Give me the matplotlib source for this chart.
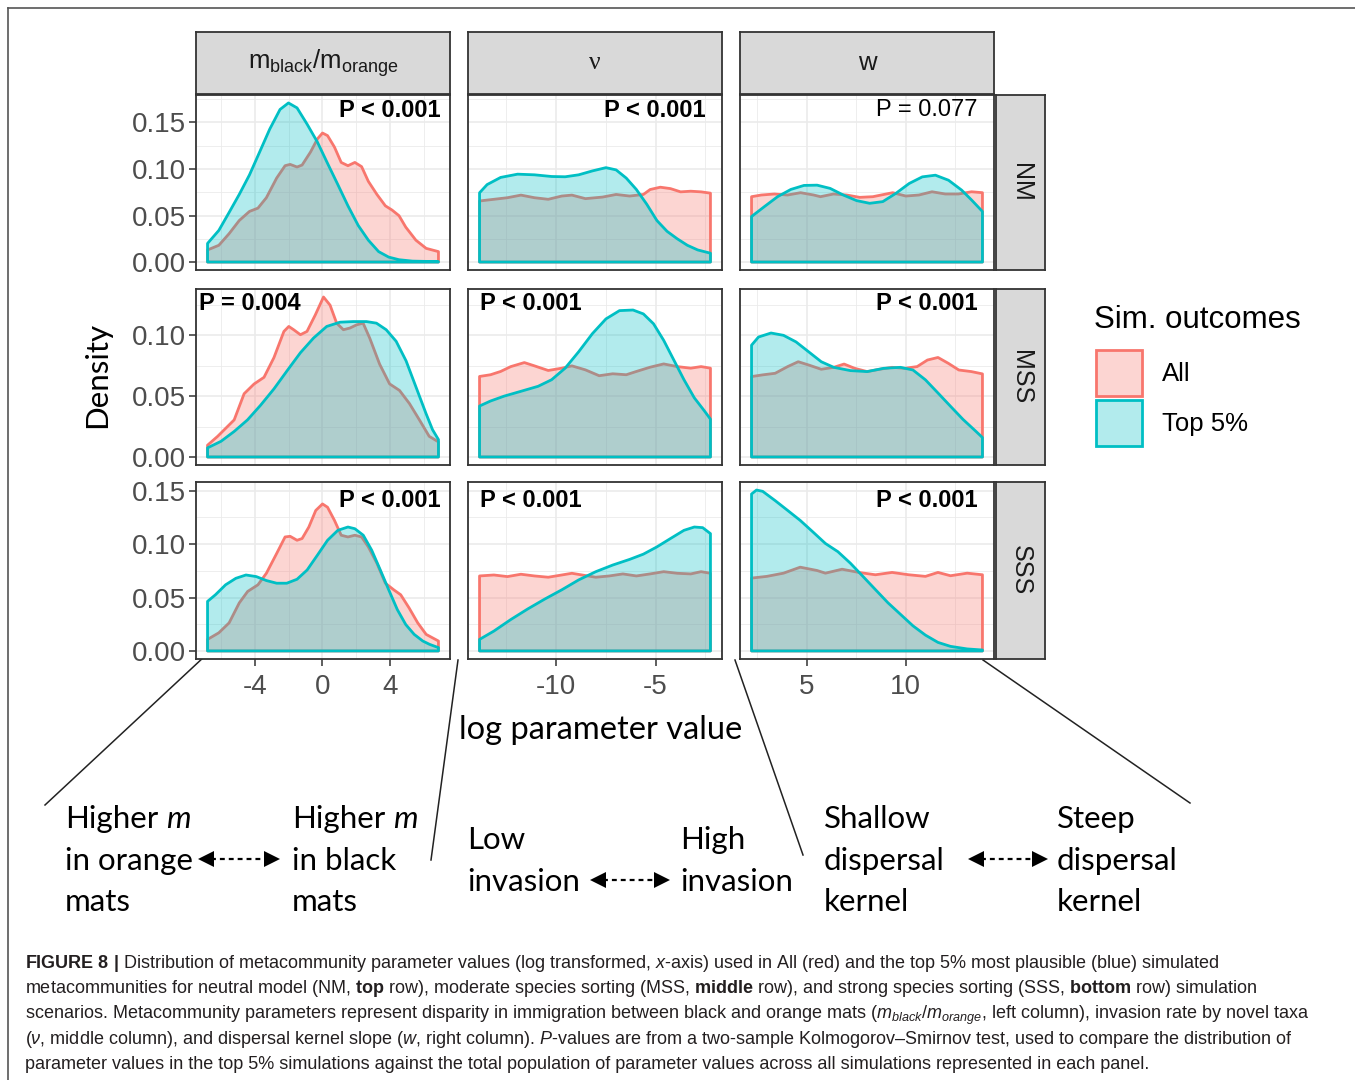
import numpy as np
import matplotlib
matplotlib.use("Agg")
import matplotlib.pyplot as plt
from matplotlib.patches import Patch
from matplotlib import font_manager

# ---- density curves (x = log parameter value, y = density) ----
# column 1: m_black / m_orange
nm_m_all_x = [-6.82, -6.15, -5.54, -4.94, -4.33, -3.83, -3.33, -2.72, -2.22, -1.92, -1.51, -1.21, -0.71, -0.30, 0.0,
              0.30, 0.71, 1.11, 1.51, 1.92, 2.32, 2.72, 3.23, 3.73, 4.13, 4.54, 4.94, 5.54, 6.15, 6.88]
nm_m_all_y = [0.013, 0.018, 0.0305, 0.0446, 0.0544, 0.0579, 0.0691, 0.0902, 0.1035, 0.1049, 0.1021, 0.1042, 0.1182,
              0.1323, 0.1386, 0.1358, 0.1235, 0.107, 0.1035, 0.107, 0.1025, 0.0867, 0.0726, 0.0604, 0.0558, 0.0498,
              0.0375, 0.0235, 0.0147, 0.0112]
nm_m_top_x = [-6.82, -6.15, -5.54, -4.94, -4.33, -3.73, -3.13, -2.52, -2.02, -1.51, -0.91, -0.30, 0.30, 0.91, 1.51,
              2.12, 2.72, 3.33, 3.93, 4.54, 5.34, 6.88]
nm_m_top_y = [0.020, 0.034, 0.0533, 0.0726, 0.0937, 0.1182, 0.1428, 0.1639, 0.1709, 0.1656, 0.148, 0.1288, 0.106,
              0.0832, 0.0604, 0.0393, 0.0235, 0.0112, 0.0053, 0.0025, 0.001, 0.0004]

mss_m_all_x = [-6.82, -6.22, -5.24, -4.65, -4.06, -3.47, -2.88, -2.29, -2.0, -1.71, -1.31, -0.92, -0.43, 0.06, 0.45,
               0.84, 1.24, 1.63, 2.02, 2.41, 2.80, 3.39, 3.98, 4.57, 5.16, 5.75, 6.33, 6.88]
mss_m_all_y = [0.0097, 0.017, 0.0305, 0.052, 0.060, 0.0655, 0.0817, 0.1032, 0.1073, 0.1046, 0.1005, 0.1032, 0.1167,
               0.1315, 0.1248, 0.110, 0.1046, 0.106, 0.1086, 0.110, 0.0978, 0.0763, 0.0601, 0.0547, 0.0439, 0.0305,
               0.017, 0.0124]
mss_m_top_x = [-6.82, -6.02, -5.24, -4.45, -3.67, -2.88, -2.10, -1.31, -0.53, 0.25, 1.04, 1.82, 2.61, 3.20, 3.78,
               4.37, 4.96, 5.55, 6.14, 6.53, 6.88]
mss_m_top_y = [0.0075, 0.0129, 0.021, 0.0305, 0.0426, 0.056, 0.0709, 0.0857, 0.0978, 0.1073, 0.1108, 0.1113, 0.1113,
               0.110, 0.1046, 0.0951, 0.079, 0.0574, 0.0358, 0.0224, 0.0143]

sss_m_all_x = [-6.82, -6.15, -5.54, -4.94, -4.44, -3.83, -3.33, -2.72, -2.22, -1.92, -1.51, -1.21, -0.81, -0.40, 0.0,
               0.30, 0.71, 1.11, 1.51, 1.92, 2.32, 2.72, 3.23, 3.73, 4.23, 4.64, 5.14, 5.65, 6.15, 6.88]
sss_m_all_y = [0.0108, 0.017, 0.0263, 0.0449, 0.0557, 0.0619, 0.0727, 0.0912, 0.1067, 0.1073, 0.1036, 0.1052, 0.116,
               0.1315, 0.1376, 0.1345, 0.1222, 0.1083, 0.1067, 0.1083, 0.1067, 0.0974, 0.082, 0.0634, 0.0572, 0.0526,
               0.0402, 0.0263, 0.0155, 0.0093]
sss_m_top_x = [-6.82, -6.35, -5.75, -5.14, -4.54, -3.93, -3.33, -2.72, -2.12, -1.51, -0.91, -0.30, 0.30, 0.91, 1.51,
               1.92, 2.42, 2.92, 3.43, 3.93, 4.44, 4.94, 5.44, 5.95, 6.35, 6.88]
sss_m_top_y = [0.0464, 0.0526, 0.0619, 0.068, 0.0711, 0.0696, 0.0659, 0.0634, 0.0634, 0.0671, 0.0758, 0.0897, 0.1036,
               0.1129, 0.116, 0.1144, 0.1083, 0.0943, 0.0758, 0.0572, 0.0387, 0.0247, 0.0155, 0.0093, 0.0062, 0.0031]

# column 2: nu (invasion rate)
nm_nu_all_x = [-13.84, -13.12, -12.44, -11.76, -11.08, -10.39, -9.71, -9.20, -8.52, -7.66, -6.98, -6.30, -5.61,
               -5.27, -4.76, -4.25, -3.74, -3.23, -2.71, -2.24]
nm_nu_all_y = [0.0656, 0.0674, 0.0691, 0.0719, 0.0691, 0.0674, 0.0709, 0.0719, 0.0681, 0.0698, 0.0726, 0.0709, 0.0726,
               0.0779, 0.0804, 0.0789, 0.0754, 0.0761, 0.0754, 0.074]
nm_nu_top_x = [-13.84, -13.46, -12.78, -11.93, -11.08, -10.22, -9.54, -8.86, -8.17, -7.49, -6.98, -6.47, -5.96,
               -5.44, -4.93, -4.42, -3.91, -3.40, -2.88, -2.24]
nm_nu_top_y = [0.0744, 0.0832, 0.0909, 0.0944, 0.0937, 0.0919, 0.0916, 0.0937, 0.0979, 0.1014, 0.099, 0.0902, 0.0779,
               0.0621, 0.0446, 0.033, 0.025, 0.018, 0.013, 0.0095]

mss_nu_all_x = [-13.84, -13.29, -12.78, -12.27, -11.59, -11.08, -10.39, -9.71, -9.20, -8.52, -7.83, -7.15, -6.47,
                -5.96, -5.27, -4.59, -3.91, -3.23, -2.71, -2.24]
mss_nu_all_y = [0.0662, 0.0676, 0.0703, 0.0743, 0.0776, 0.0749, 0.0711, 0.073, 0.0749, 0.0716, 0.0668, 0.0684, 0.0676,
                0.0703, 0.0738, 0.0765, 0.0743, 0.073, 0.0743, 0.073]
mss_nu_top_x = [-13.84, -13.29, -12.61, -11.76, -10.90, -10.22, -9.54, -8.86, -8.17, -7.49, -6.81, -6.13, -5.61,
                -5.10, -4.59, -4.08, -3.57, -3.05, -2.54, -2.24]
mss_nu_top_y = [0.0419, 0.046, 0.05, 0.054, 0.0581, 0.0635, 0.073, 0.0865, 0.1014, 0.1135, 0.1203, 0.1208, 0.1176,
                0.1095, 0.0959, 0.0797, 0.0635, 0.0486, 0.0378, 0.0311]

sss_nu_all_x = [-13.84, -13.12, -12.44, -11.76, -11.08, -10.39, -9.71, -9.20, -8.69, -8.0, -7.32, -6.64, -5.96,
                -5.27, -4.59, -3.91, -3.23, -2.71, -2.24]
sss_nu_all_y = [0.0702, 0.0711, 0.0696, 0.0718, 0.0702, 0.069, 0.0711, 0.0727, 0.0711, 0.069, 0.0702, 0.0721, 0.0702,
                0.0721, 0.0742, 0.0727, 0.0721, 0.0742, 0.0727]
sss_nu_top_x = [-13.84, -13.12, -12.27, -11.42, -10.56, -9.71, -8.86, -8.0, -7.15, -6.30, -5.61, -4.93, -4.25,
                -3.57, -3.05, -2.63, -2.24]
sss_nu_top_y = [0.0108, 0.0186, 0.0294, 0.0393, 0.0486, 0.0572, 0.0665, 0.0742, 0.0804, 0.0857, 0.0906, 0.0974,
                0.1052, 0.1129, 0.116, 0.1154, 0.1098]

# column 3: w (dispersal kernel slope)
nm_w_all_x = [2.23, 2.72, 3.38, 4.04, 4.70, 5.36, 5.70, 6.36, 7.02, 7.68, 8.34, 9.01, 9.34, 10.0, 10.66, 11.32,
              11.99, 12.65, 13.31, 13.86]
nm_w_all_y = [0.0702, 0.072, 0.0731, 0.072, 0.0745, 0.072, 0.0702, 0.0731, 0.072, 0.0695, 0.0702, 0.0731, 0.0745,
              0.0709, 0.072, 0.0755, 0.0731, 0.0731, 0.0755, 0.0745]
nm_w_top_x = [2.23, 2.88, 3.54, 4.21, 4.87, 5.53, 6.19, 6.85, 7.52, 8.18, 8.84, 9.50, 10.17, 10.83, 11.49, 12.15,
              12.81, 13.31, 13.86]
nm_w_top_y = [0.0489, 0.0596, 0.0702, 0.078, 0.0823, 0.0826, 0.0791, 0.072, 0.066, 0.0631, 0.0649, 0.0738, 0.0844,
              0.0915, 0.0933, 0.0879, 0.0773, 0.0667, 0.0543]

mss_w_all_x = [2.23, 2.79, 3.42, 4.05, 4.58, 5.11, 5.74, 6.37, 6.89, 7.42, 8.05, 8.68, 9.31, 9.94, 10.57, 11.09,
               11.62, 12.14, 12.67, 13.30, 13.86]
mss_w_all_y = [0.0661, 0.0675, 0.0688, 0.0743, 0.0783, 0.0756, 0.0721, 0.0737, 0.0764, 0.0729, 0.0702, 0.0721, 0.0737,
               0.0729, 0.0743, 0.0797, 0.0818, 0.077, 0.0715, 0.0702, 0.0683]
mss_w_top_x = [2.23, 2.58, 3.21, 3.84, 4.47, 5.11, 5.74, 6.37, 7.21, 8.05, 8.89, 9.73, 10.36, 10.99, 11.62, 12.25,
               12.88, 13.51, 13.86]
mss_w_top_y = [0.0919, 0.0986, 0.1019, 0.10, 0.0946, 0.0864, 0.0783, 0.0737, 0.071, 0.0702, 0.0729, 0.0737, 0.0715,
               0.0634, 0.0526, 0.0417, 0.0309, 0.0214, 0.016]

sss_w_all_x = [2.23, 3.0, 3.84, 4.68, 5.53, 5.95, 6.79, 7.63, 8.47, 9.31, 10.15, 10.99, 11.62, 12.25, 13.09, 13.86]
sss_w_all_y = [0.0682, 0.0698, 0.0728, 0.0784, 0.0753, 0.0728, 0.0765, 0.0735, 0.0713, 0.0735, 0.0713, 0.0698, 0.0735,
               0.0704, 0.0728, 0.0713]
sss_w_top_x = [2.23, 2.48, 2.79, 3.42, 4.05, 4.68, 5.32, 5.95, 6.58, 7.21, 7.84, 8.47, 9.10, 9.73, 10.36, 10.99,
               11.62, 12.25, 13.09, 13.86]
sss_w_top_y = [0.1469, 0.1506, 0.1494, 0.1407, 0.1315, 0.1222, 0.1114, 0.1006, 0.0929, 0.0821, 0.0698, 0.0574, 0.0451,
               0.0343, 0.0235, 0.0148, 0.008, 0.0043, 0.0019, 0.0009]

col_labels = [r"$\mathsf{m_{black}/m_{orange}}$", "ν", "w"]
row_labels = ["NM", "MSS", "SSS"]
p_values = [["P < 0.001", "P < 0.001", "P = 0.077"],
            ["P = 0.004", "P < 0.001", "P < 0.001"],
            ["P < 0.001", "P < 0.001", "P < 0.001"]]
p_bold = [[True, True, False], [True, True, True], [True, True, True]]
x_major = [[-4, 0, 4], [-10, -5], [5, 10]]
x_minor = [[-6, -2, 2, 6], [-12.5, -7.5, -2.5], [2.5, 7.5, 12.5]]
y_major = [[0, 0.05, 0.10, 0.15], [0, 0.05, 0.10], [0, 0.05, 0.10, 0.15]]
legend_title = "Sim. outcomes"
legend_labels = ["All", "Top 5%"]

curves = [
    [(nm_m_all_x, nm_m_all_y, nm_m_top_x, nm_m_top_y),
     (nm_nu_all_x, nm_nu_all_y, nm_nu_top_x, nm_nu_top_y),
     (nm_w_all_x, nm_w_all_y, nm_w_top_x, nm_w_top_y)],
    [(mss_m_all_x, mss_m_all_y, mss_m_top_x, mss_m_top_y),
     (mss_nu_all_x, mss_nu_all_y, mss_nu_top_x, mss_nu_top_y),
     (mss_w_all_x, mss_w_all_y, mss_w_top_x, mss_w_top_y)],
    [(sss_m_all_x, sss_m_all_y, sss_m_top_x, sss_m_top_y),
     (sss_nu_all_x, sss_nu_all_y, sss_nu_top_x, sss_nu_top_y),
     (sss_w_all_x, sss_w_all_y, sss_w_top_x, sss_w_top_y)],
]

# ---- fonts ----
names = {f.name for f in font_manager.fontManager.ttflist}
narrow = "Liberation Sans Narrow" in names
cap_font = "Liberation Sans Narrow" if narrow else "Liberation Sans"
cap_size = 14 if narrow else 13.0
ann_font = "Lato"
plt.rcParams["font.family"] = ["Liberation Sans", "DejaVu Sans"]
plt.rcParams["axes.unicode_minus"] = False
plt.rcParams["mathtext.fontset"] = "custom"
plt.rcParams["mathtext.rm"] = cap_font
plt.rcParams["mathtext.it"] = cap_font + ":italic"
plt.rcParams["mathtext.bf"] = cap_font + ":bold"
plt.rcParams["mathtext.sf"] = "Liberation Sans"

RED = "#F8766D"
CYAN = "#00BFC4"
DARK = "#333333"

W, H = 1355, 1080
fig = plt.figure(figsize=(W / 100, H / 100), dpi=100)


def box(l, t, r, b):
    return [l / W, 1 - b / H, (r - l) / W, (b - t) / H]


# overlay in pixel coordinates for frame, annotations and caption
ov = fig.add_axes([0, 0, 1, 1])
ov.set_xlim(0, W)
ov.set_ylim(H, 0)
ov.axis("off")

col_px = [(196, 450), (468, 722), (740, 994)]
row_px = [(95, 270), (289, 465), (482, 659)]

# shared scales: x per column, y per row (ggplot-like 5% expansion)
xlims = []
for c in range(3):
    xs = np.concatenate([np.r_[curves[r][c][0], curves[r][c][2]] for r in range(3)])
    span = xs.max() - xs.min()
    xlims.append((xs.min() - 0.05 * span, xs.max() + 0.05 * span))
ylims = []
for r in range(3):
    ymax = max(max(curves[r][c][1] + curves[r][c][3]) for c in range(3))
    ylims.append((-0.05 * ymax, 1.05 * ymax))

p_xpos = {("right", 0): 0.965, ("right", 1): 0.935, ("right", 2): 0.937,
          ("left", 0): 0.012, ("left", 1): 0.047}
p_ypos = [0.914, 0.92, 0.898]

for r in range(3):
    for c in range(3):
        t, b = row_px[r]
        l, rr = col_px[c]
        ax = fig.add_axes(box(l, t, rr, b))
        ax_x, ax_y, tp_x, tp_y = curves[r][c]
        for xs, ys, col in [(ax_x, ax_y, RED), (tp_x, tp_y, CYAN)]:
            px = [xs[0]] + list(xs) + [xs[-1]]
            py = [0] + list(ys) + [0]
            ax.fill(px, py, facecolor=matplotlib.colors.to_rgba(col, 0.3), edgecolor=col,
                    linewidth=2, joinstyle="round", zorder=3)
        ax.set_xlim(*xlims[c])
        ax.set_ylim(*ylims[r])
        ax.set_xticks(x_major[c])
        ax.set_xticks(x_minor[c], minor=True)
        ax.set_yticks(y_major[r])
        ymn = [v + 0.025 for v in y_major[r] if v + 0.025 < ylims[r][1]]
        ax.set_yticks(ymn, minor=True)
        ax.set_xticklabels([str(v) for v in x_major[c]])
        ax.set_yticklabels(["%.2f" % v for v in y_major[r]])
        ax.grid(which="major", color="#EBEBEB", linewidth=1.2, zorder=0)
        ax.grid(which="minor", color="#EBEBEB", linewidth=0.6, zorder=0)
        ax.set_axisbelow(True)
        ax.tick_params(which="minor", length=0)
        ax.tick_params(which="major", length=5, width=1.1, color=DARK, labelsize=20,
                       labelcolor="#4D4D4D", pad=2,
                       left=(c == 0), labelleft=(c == 0), bottom=(r == 2), labelbottom=(r == 2))
        ax.tick_params(axis="x", pad=6)
        for s in ax.spines.values():
            s.set_color(DARK)
            s.set_linewidth(1.3)
            s.set_zorder(5)
        ha = "left" if (r, c) in [(1, 0), (1, 1), (2, 1)] else "right"
        ax.text(p_xpos[(ha, c)], p_ypos[r], p_values[r][c], transform=ax.transAxes, ha=ha, va="center",
                fontsize=17, fontweight="bold" if p_bold[r][c] else "normal", color="black", zorder=6)

# facet strips
for c in range(3):
    l, rr = col_px[c]
    sax = fig.add_axes(box(l, 32, rr, 94))
    sax.set_facecolor("#D9D9D9")
    sax.set_xticks([])
    sax.set_yticks([])
    for s in sax.spines.values():
        s.set_color(DARK)
        s.set_linewidth(1.3)
    fam = ["Liberation Serif"] if c == 1 else ["Liberation Sans"]
    sax.text(0.5, 0.5, col_labels[c], ha="center", va="center", fontsize=18.5, color="#1A1A1A",
             family=fam, transform=sax.transAxes)
for r in range(3):
    t, b = row_px[r]
    sax = fig.add_axes(box(996, t, 1045, b))
    sax.set_facecolor("#D9D9D9")
    sax.set_xticks([])
    sax.set_yticks([])
    for s in sax.spines.values():
        s.set_color(DARK)
        s.set_linewidth(1.3)
    sax.text(0.5, 0.5, row_labels[r], ha="center", va="center", rotation=-90, fontsize=18,
             color="#1A1A1A", transform=sax.transAxes)

# legend (title drawn separately to control the gap)
handles = [Patch(facecolor=matplotlib.colors.to_rgba(RED, 0.3), edgecolor=RED, linewidth=2),
           Patch(facecolor=matplotlib.colors.to_rgba(CYAN, 0.3), edgecolor=CYAN, linewidth=2)]
fig.legend(handles, legend_labels, loc="upper left",
           bbox_to_anchor=(1096 / W, 1 - 350 / H), frameon=False, fontsize=18.5,
           handlelength=1.8, handleheight=2.38, labelspacing=0.15, handletextpad=0.75, borderpad=0,
           borderaxespad=0)
ov.text(1094, 320, legend_title, ha="left", va="center", fontsize=22.5)

# frame
ov.plot([8, W], [8, 8], color="#555555", lw=1.2)
ov.plot([8, 8], [8, H], color="#555555", lw=1.2)

# axis titles
ov.text(97, 375, "Density", rotation=90, ha="center", va="center", fontsize=22.5, family=ann_font)
ov.text(601, 730, "log parameter value", ha="center", va="center", fontsize=23.5, family=ann_font)

# connector lines
for (x0, y0, x1, y1) in [(205, 656, 45, 805), (458, 660, 431, 860), (735, 660, 803, 855), (983, 660, 1190, 803)]:
    ov.plot([x0, x1], [y0, y1], color="#222222", lw=1.1)

# annotation texts
renderer = fig.canvas.get_renderer()
ann_size = 22.5
groups = [
    (65, ["Higher", "in orange", "mats"], [828, 870, 911]),
    (292, ["Higher", "in black", "mats"], [828, 870, 911]),
    (467, ["Low", "invasion"], [849, 891]),
    (680, ["High", "invasion"], [849, 891]),
    (824, ["Shallow", "dispersal", "kernel"], [828, 870, 911]),
    (1057, ["Steep", "dispersal", "kernel"], [828, 870, 911]),
]
for gx, lines, bases in groups:
    for txt, yb in zip(lines, bases):
        ov.text(gx, yb, txt, ha="left", va="baseline", fontsize=ann_size, family=ann_font)
        if txt == "Higher":
            full = ov.text(0, 0, "Higher m", fontsize=ann_size, family=ann_font)
            mw = ov.text(0, 0, "m", fontsize=ann_size, family=ann_font)
            wf = full.get_window_extent(renderer).width
            wm = mw.get_window_extent(renderer).width
            full.remove()
            mw.remove()
            ov.text(gx + wf - wm, yb, "m", ha="left", va="baseline", fontsize=ann_size, family=ann_font,
                    style="italic")

for (x0, x1, y) in [(200, 278, 859), (592, 668, 880), (970, 1046, 859)]:
    ov.plot([x0 + 11, x1 - 11], [y, y], color="black", lw=1.6, ls=(0, (2.2, 1.8)))
    ov.plot([x0 + 6], [y], marker="<", ms=11, color="black", mew=0)
    ov.plot([x1 - 6], [y], marker=">", ms=11, color="black", mew=0)

# caption
caption = [
    r"$\mathbf{FIGURE\ 8\ |}$ Distribution of metacommunity parameter values (log transformed, $x$-axis) used in All (red) and the top 5% most plausible (blue) simulated",
    r"metacommunities for neutral model (NM, $\mathbf{top}$ row), moderate species sorting (MSS, $\mathbf{middle}$ row), and strong species sorting (SSS, $\mathbf{bottom}$ row) simulation",
    r"scenarios. Metacommunity parameters represent disparity in immigration between black and orange mats ($m_{black}/m_{orange}$, left column), invasion rate by novel taxa",
    r"($\nu$, middle column), and dispersal kernel slope ($w$, right column). $P$-values are from a two-sample Kolmogorov–Smirnov test, used to compare the distribution of",
    r"parameter values in the top 5% simulations against the total population of parameter values across all simulations represented in each panel.",
]
for i, line in enumerate(caption):
    ov.text(25, 968 + 25.3 * i, line, ha="left", va="baseline", fontsize=cap_size, family=cap_font,
            color="#231F20")

fig.savefig("out.png", dpi=100)
